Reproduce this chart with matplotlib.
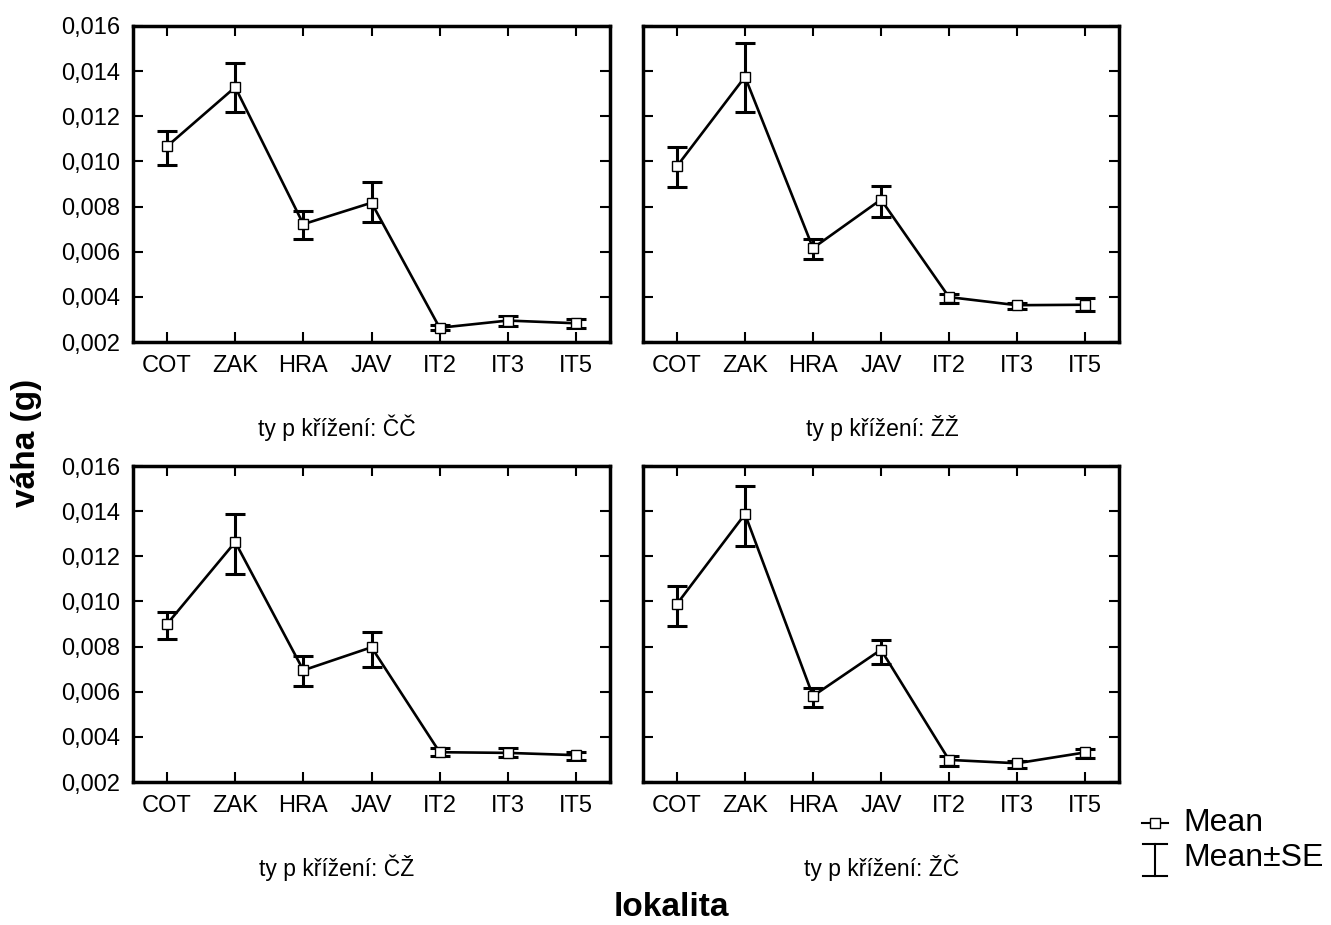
import numpy as np
import matplotlib as mpl
mpl.use('Agg')
import matplotlib.pyplot as plt
from matplotlib import ticker

plt.rcParams['font.family'] = ['Liberation Sans', 'DejaVu Sans']

lokality = ['COT', 'ZAK', 'HRA', 'JAV', 'IT2', 'IT3', 'IT5']
typy = ['ČČ', 'ŽŽ', 'ČŽ', 'ŽČ']

# mean, lower (mean-SE), upper (mean+SE) per crossing type
mean_cc = [0.01067, 0.01329, 0.00722, 0.00817, 0.00263, 0.00295, 0.00283]
low_cc = [0.00983, 0.01217, 0.00658, 0.00730, 0.00251, 0.00273, 0.00263]
up_cc = [0.01134, 0.01437, 0.00782, 0.00908, 0.00276, 0.00314, 0.00303]

mean_zz = [0.00979, 0.01375, 0.00616, 0.00831, 0.00399, 0.00363, 0.00365]
low_zz = [0.00887, 0.01218, 0.00567, 0.00754, 0.00374, 0.00344, 0.00337]
up_zz = [0.01062, 0.01526, 0.00658, 0.00890, 0.00412, 0.00374, 0.00393]

mean_cz = [0.00900, 0.01263, 0.00695, 0.00797, 0.00332, 0.00329, 0.00319]
low_cz = [0.00834, 0.01121, 0.00627, 0.00709, 0.00313, 0.00310, 0.00298]
up_cz = [0.00954, 0.01387, 0.00757, 0.00863, 0.00350, 0.00349, 0.00334]

mean_zc = [0.00989, 0.01387, 0.00581, 0.00786, 0.00298, 0.00283, 0.00331]
low_zc = [0.00893, 0.01245, 0.00532, 0.00724, 0.00272, 0.00264, 0.00307]
up_zc = [0.01070, 0.01511, 0.00616, 0.00830, 0.00314, 0.00295, 0.00346]

data = [(mean_cc, low_cc, up_cc), (mean_zz, low_zz, up_zz),
        (mean_cz, low_cz, up_cz), (mean_zc, low_zc, up_zc)]

W, H = 1331, 925
fig = plt.figure(figsize=(W / 100, H / 100), dpi=100)

# axes boxes in pixels: left, top, right, bottom
boxes = [(133, 26, 610, 342), (643, 26, 1119, 342),
         (133, 466, 610, 782), (643, 466, 1119, 782)]
sub_x = [337, 882, 337, 882]
sub_y = [428, 428, 868, 868]

x = np.arange(len(lokality))
for i, (l, t, r, b) in enumerate(boxes):
    ax = fig.add_axes([l / W, 1 - b / H, (r - l) / W, (b - t) / H])
    m, lo, hi = [np.array(v) for v in data[i]]
    ax.errorbar(x, m, yerr=[m - lo, hi - m], fmt='none', ecolor='black',
                elinewidth=2.2, capsize=7, capthick=2.2, zorder=2)
    ax.plot(x, m, color='black', lw=1.9, marker='s', ms=6.5, mfc='white',
            mec='black', mew=1, zorder=3)
    ax.set_xlim(-0.5, 6.5)
    ax.set_ylim(0.002, 0.016)
    ax.set_xticks(x)
    ax.set_xticklabels(lokality)
    ax.set_yticks(np.arange(0.002, 0.0161, 0.002))
    ax.yaxis.set_major_formatter(ticker.FuncFormatter(
        lambda v, pos: '{:.3f}'.format(v).replace('.', ',')))
    ax.tick_params(direction='in', length=7, width=1.5, top=True, right=True,
                   labelsize=17, pad=9)
    if i % 2 == 1:
        ax.tick_params(labelleft=False)
    for s in ax.spines.values():
        s.set_linewidth(2.5)
    fig.text(sub_x[i] / W, 1 - sub_y[i] / H, 'ty p křížení: ' + typy[i],
             ha='center', va='center', fontsize=16.5)

fig.text(27 / W, 1 - 443 / H, 'váha (g)', rotation=90, ha='center',
         va='center', fontsize=24, fontweight='bold')
fig.text(671 / W, 1 - 908 / H, 'lokalita', ha='center', va='center',
         fontsize=24, fontweight='bold')

# legend drawn in pixel units
lg = fig.add_axes([1130 / W, 1 - 890 / H, 200 / W, 90 / H])
lg.set_xlim(1130, 1330)
lg.set_ylim(890, 800)
lg.axis('off')
lg.plot([1142, 1168], [823, 823], color='black', lw=1.5, clip_on=False)
lg.plot([1155], [823], marker='s', ms=6.5, mfc='white', mec='black',
        clip_on=False)
lg.plot([1155, 1155], [844, 876], color='black', lw=1.5, clip_on=False)
lg.plot([1143, 1167], [844, 844], color='black', lw=1.5, clip_on=False)
lg.plot([1143, 1167], [876, 876], color='black', lw=1.5, clip_on=False)
lg.text(1183, 823, 'Mean', ha='left', va='center', fontsize=23)
lg.text(1183, 858, 'Mean±SE', ha='left', va='center', fontsize=23)

fig.savefig('out.png', dpi=100)
